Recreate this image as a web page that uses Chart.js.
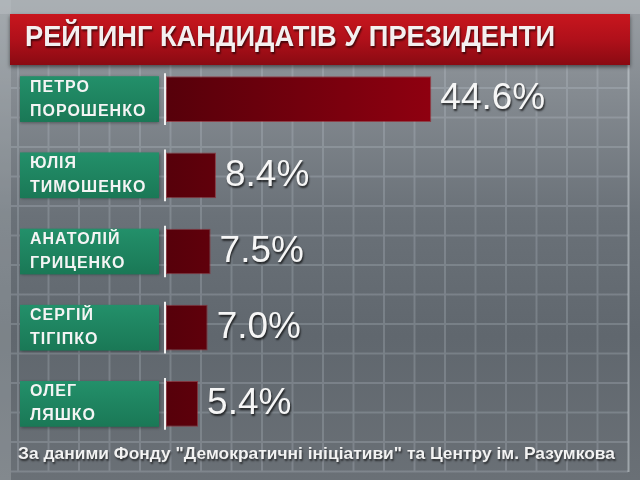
<!DOCTYPE html>
<html>
<head>
<meta charset="utf-8">
<script src="https://cdn.jsdelivr.net/npm/chart.js@4"></script>
<style>
  body { margin: 0; background: #70777d; }
  #wrap { width: 640px; height: 480px; }
</style>
</head>
<body>
<div id="wrap"><canvas id="ratingChart"></canvas></div>
<script>
const candidates = [
    ['ПЕТРО', 'ПОРОШЕНКО'],
    ['ЮЛІЯ', 'ТИМОШЕНКО'],
    ['АНАТОЛІЙ', 'ГРИЦЕНКО'],
    ['СЕРГІЙ', 'ТІГІПКО'],
    ['ОЛЕГ', 'ЛЯШКО']
];
const ratings = [44.6, 8.4, 7.5, 7.0, 5.4];
const titleText = 'РЕЙТИНГ КАНДИДАТІВ У ПРЕЗИДЕНТИ';
const sourceText = 'За даними Фонду "Демократичні ініціативи" та Центру ім. Разумкова';

// draw text squeezed/stretched to an exact width
function fitText(ctx, text, x, y, width) {
    const w = ctx.measureText(text).width;
    ctx.save();
    ctx.translate(x, y);
    ctx.scale(width / w, 1);
    ctx.fillText(text, 0, 0);
    ctx.restore();
}

const tvBackdrop = {
    id: 'tvBackdrop',
    beforeDraw(chart) {
        const ctx = chart.ctx;
        const W = chart.width, H = chart.height;
        ctx.save();
        let bg = ctx.createLinearGradient(0, 0, 0, H);
        bg.addColorStop(0, '#9a9fa4');
        bg.addColorStop(0.18, '#868c92');
        bg.addColorStop(0.45, '#6a7178');
        bg.addColorStop(0.7, '#60676e');
        bg.addColorStop(1, '#6a7076');
        ctx.fillStyle = bg;
        ctx.fillRect(0, 0, W, H);

        // lighter top strip and left edge
        ctx.fillStyle = 'rgba(200,205,210,0.35)';
        ctx.fillRect(0, 0, W, 14);
        ctx.fillStyle = 'rgba(190,195,200,0.3)';
        ctx.fillRect(0, 0, 11, H);

        // grid
        ctx.strokeStyle = 'rgba(205,215,225,0.22)';
        ctx.lineWidth = 2;
        ctx.beginPath();
        for (let x = 18; x < 628; x += 30.5) {
            ctx.moveTo(x, 62); ctx.lineTo(x, 472);
        }
        for (let y = 88; y < 472; y += 29.5) {
            ctx.moveTo(11, y); ctx.lineTo(628, y);
        }
        ctx.stroke();
        ctx.strokeStyle = 'rgba(225,230,235,0.45)';
        ctx.beginPath();
        ctx.moveTo(628.5, 62); ctx.lineTo(628.5, 472);
        ctx.stroke();

        // title bar
        let red = ctx.createLinearGradient(0, 14, 0, 65);
        red.addColorStop(0, '#c8161e');
        red.addColorStop(0.5, '#b0101a');
        red.addColorStop(1, '#8a0a12');
        ctx.fillStyle = red;
        ctx.shadowColor = 'rgba(0,0,0,0.5)';
        ctx.shadowBlur = 4;
        ctx.shadowOffsetY = 2;
        ctx.fillRect(10, 14, 620, 51);
        ctx.shadowColor = 'rgba(0,0,0,0.6)';
        ctx.shadowBlur = 2;
        ctx.shadowOffsetX = 1;
        ctx.shadowOffsetY = 2;
        ctx.fillStyle = '#f4f0f0';
        ctx.font = 'bold 29px "Liberation Sans", Arial, sans-serif';
        ctx.textBaseline = 'middle';
        fitText(ctx, titleText, 25, 38, 530);

        // source line
        ctx.fillStyle = '#f2f2f2';
        ctx.font = 'bold 17px "Liberation Sans Narrow", "Liberation Sans", sans-serif';
        fitText(ctx, sourceText, 18, 454, 597);
        ctx.restore();
    },
    afterDatasetsDraw(chart) {
        const ctx = chart.ctx;
        const yScale = chart.scales.y;
        const meta = chart.getDatasetMeta(0);
        const left = chart.chartArea.left;
        ctx.save();
        meta.data.forEach((bar, i) => {
            const cy = yScale.getPixelForValue(i);
            const h = bar.height;
            // green name box
            let g = ctx.createLinearGradient(0, cy - h / 2, 0, cy + h / 2);
            g.addColorStop(0, '#23906a');
            g.addColorStop(1, '#1a7856');
            ctx.fillStyle = g;
            ctx.shadowColor = 'rgba(0,0,0,0.35)';
            ctx.shadowBlur = 3;
            ctx.shadowOffsetY = 1;
            ctx.fillRect(20, cy - h / 2, 139, h);

            // white divider
            ctx.shadowColor = 'transparent';
            ctx.strokeStyle = '#f0f0f0';
            ctx.lineWidth = 2;
            ctx.beginPath();
            ctx.moveTo(left - 1, cy - h / 2 - 3);
            ctx.lineTo(left - 1, cy + h / 2 + 3);
            ctx.stroke();

            // name text
            ctx.fillStyle = '#f4f4f4';
            ctx.font = 'bold 16px "Liberation Sans", Arial, sans-serif';
            ctx.letterSpacing = '1px';
            ctx.textBaseline = 'middle';
            ctx.textAlign = 'left';
            const lines = chart.data.labels[i];
            ctx.fillText(lines[0], 30, cy - 12);
            ctx.fillText(lines[1], 30, cy + 12);
            ctx.letterSpacing = '0px';

            // value text
            ctx.shadowColor = 'rgba(0,0,0,0.7)';
            ctx.shadowBlur = 2;
            ctx.shadowOffsetX = 1;
            ctx.shadowOffsetY = 2;
            ctx.font = '37px "Liberation Sans", Arial, sans-serif';
            ctx.fillStyle = '#f6f6f6';
            ctx.fillText(chart.data.datasets[0].data[i].toFixed(1) + '%', bar.x + 9, cy);
        });
        ctx.restore();
    }
};

const ctxRating = document.getElementById('ratingChart').getContext('2d');

new Chart(ctxRating, {
    type: 'bar',
    data: {
        labels: candidates,
        datasets: [{
            data: ratings,
            backgroundColor: function(context) {
                const area = context.chart.chartArea;
                if (!area) return '#5e0008';
                const grad = context.chart.ctx.createLinearGradient(area.left, 0, area.left + 270, 0);
                grad.addColorStop(0, '#56000a');
                grad.addColorStop(1, '#900010');
                return grad;
            },
            borderColor: 'rgba(150,20,30,0.6)',
            borderWidth: 1,
            borderSkipped: false,
            barPercentage: 0.6,
            categoryPercentage: 1
        }]
    },
    options: {
        indexAxis: 'y',
        responsive: true,
        maintainAspectRatio: false,
        animation: false,
        layout: {
            padding: { left: 166, right: 10, top: 61, bottom: 38 }
        },
        plugins: {
            legend: { display: false },
            tooltip: { enabled: false }
        },
        scales: {
            x: { display: false, min: 0, max: 78 },
            y: { display: false }
        }
    },
    plugins: [tvBackdrop]
});
</script>
</body>
</html>
